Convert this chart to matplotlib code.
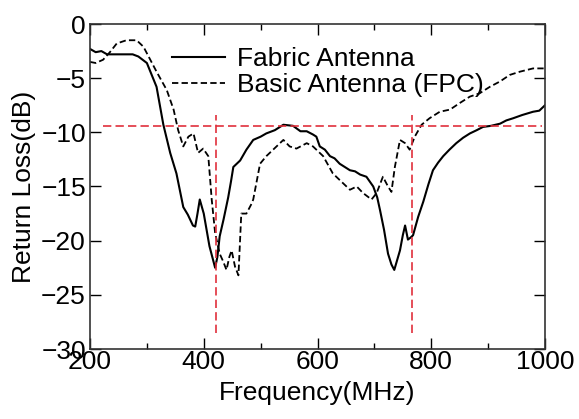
import matplotlib.pyplot as plt
import numpy as np

plt.rcParams['font.family'] = ['Liberation Sans', 'DejaVu Sans']

# Fabric antenna (solid)
freq_fabric = [200, 210, 220, 230, 240, 260, 275, 285, 300, 317, 329, 341, 352, 364, 372,
               381, 385, 389, 393, 400, 410, 420, 424, 428, 435, 443, 448, 452, 464, 475,
               487, 500, 510, 525, 540, 557, 570, 581, 592, 598, 604, 613, 622, 630, 639,
               648, 657, 666, 675, 686, 698, 705, 710, 717, 724, 730, 735, 740, 745, 750,
               754, 759, 764, 768, 777, 786, 795, 803, 812, 821, 832, 844, 856, 868, 880,
               891, 905, 921, 932, 944, 960, 979, 990, 1000]
rl_fabric = [-2.3, -2.6, -2.5, -2.8, -2.8, -2.8, -2.8, -3.0, -3.6, -5.8, -9.3, -11.9, -13.8, -16.9, -17.6,
             -18.6, -18.7, -17.5, -16.2, -17.5, -20.5, -22.5, -21.5, -19.6, -18.0, -16.0, -14.5, -13.2, -12.6, -11.6,
             -10.7, -10.4, -10.1, -9.8, -9.3, -9.4, -9.9, -9.9, -10.2, -10.4, -11.3, -11.6, -12.2, -12.4, -12.9,
             -13.2, -13.5, -13.6, -13.9, -14.1, -15.0, -16.0, -17.2, -19.0, -21.2, -22.2, -22.7, -21.8, -20.9, -19.5,
             -18.6, -19.9, -19.7, -19.5, -17.8, -16.4, -14.8, -13.5, -12.8, -12.2, -11.6, -11.0, -10.5, -10.1, -9.8,
             -9.5, -9.4, -9.2, -8.9, -8.7, -8.4, -8.1, -8.0, -7.5]

# Basic antenna (FPC), dashed
freq_fpc = [200, 210, 223, 235, 247, 264, 282, 294, 305, 317, 335, 347, 355, 364, 373,
            382, 390, 399, 408, 414, 420, 428, 434, 440, 445, 449, 455, 461, 466, 475,
            484, 487, 499, 510, 528, 540, 551, 563, 581, 592, 598, 610, 627, 645, 657,
            669, 680, 695, 704, 715, 724, 730, 736, 745, 754, 762, 771, 783, 797, 815,
            833, 850, 868, 885, 903, 921, 938, 956, 979, 1000]
rl_fpc = [-3.5, -3.6, -3.3, -2.6, -1.8, -1.5, -1.5, -2.1, -3.2, -4.4, -6.1, -7.9, -9.8, -11.3, -10.4,
          -10.1, -11.9, -11.5, -12.2, -16.2, -19.3, -21.2, -21.9, -22.7, -21.5, -20.9, -22.4, -23.2, -17.5, -17.5,
          -16.6, -16.2, -12.9, -12.2, -11.3, -10.7, -11.3, -11.5, -11.0, -11.3, -11.6, -12.2, -13.8, -14.7, -15.3,
          -15.0, -15.6, -16.2, -15.6, -14.1, -15.0, -15.5, -13.2, -10.7, -11.0, -11.6, -10.4, -9.3, -8.7, -8.1,
          -7.9, -7.3, -6.7, -6.4, -5.8, -5.3, -4.7, -4.4, -4.1, -4.1]

# red reference lines
ref_level = -9.4
ref_span = [223, 995]
ref_freqs = [421, 767]
ref_vspan = [-28.5, -8.4]

fig = plt.figure(figsize=(5.79, 4.19), dpi=100)
ax = fig.add_axes([90/579, 70/419, 455/579, 325/419])

ax.plot(freq_fabric, rl_fabric, color='black', lw=1.5, label='Fabric Antenna')
ax.plot(freq_fpc, rl_fpc, color='black', lw=1.3, linestyle=(0, (3.5, 1.8)),
        label='Basic Antenna (FPC)')

red = '#e0303c'
ax.plot(ref_span, [ref_level, ref_level], color=red, lw=1.2, linestyle=(0, (5, 2.5)))
for f in ref_freqs:
    ax.plot([f, f], ref_vspan, color=red, lw=1.2, linestyle=(0, (5, 2.5)))

ax.set_xlim(200, 1000)
ax.set_ylim(-30, 0)
ax.set_xticks([200, 400, 600, 800, 1000])
ax.set_xticks([300, 500, 700, 900], minor=True)
ax.set_yticks([0, -5, -10, -15, -20, -25, -30])
ax.tick_params(which='both', direction='in', top=True, right=True,
               labelsize=19, width=1)
ax.tick_params(which='major', length=8)
ax.tick_params(which='minor', length=4)
ax.tick_params(axis='x', pad=1)
ax.tick_params(axis='y', pad=3)
for s in ax.spines.values():
    s.set_linewidth(1.2)
    s.set_color('#333333')

ax.set_xlabel('Frequency(MHz)', fontsize=19, labelpad=5)
ax.set_ylabel('Return Loss(dB)', fontsize=19, labelpad=4)

ax.legend(loc='upper left', bbox_to_anchor=(0.18, 0.93), frameon=False,
          fontsize=19, handlelength=2.0, handletextpad=0.45,
          labelspacing=0.1, borderpad=0, borderaxespad=0)

fig.savefig('out.png', dpi=100)
